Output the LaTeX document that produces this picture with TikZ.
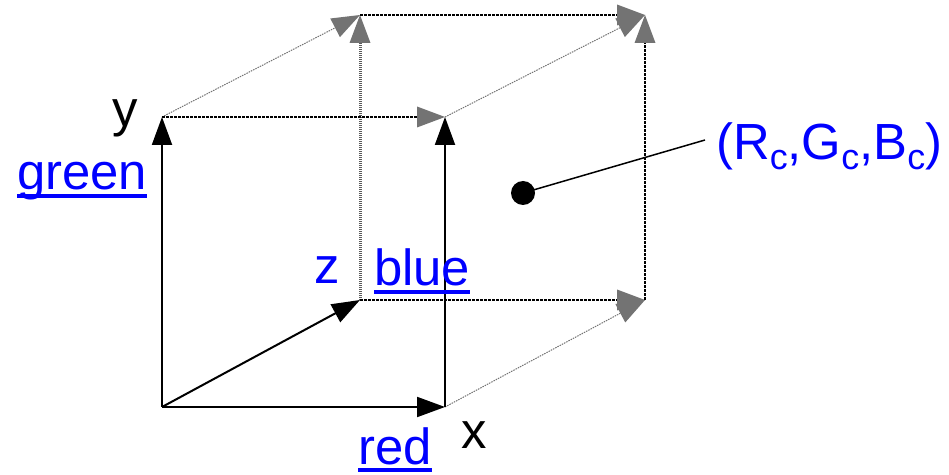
\documentclass[tikz,border=0pt]{standalone}
\usepackage{fontspec}
\setmainfont{Liberation Sans}
\usetikzlibrary{arrows.meta}
\definecolor{lblblue}{RGB}{0,0,255}
\definecolor{tipgray}{RGB}{115,115,115}
\newcommand\ulbl[1]{\setbox0\hbox{#1}\rlap{\rule[-8bp]{\wd0}{4bp}}\box0}
\newcommand\sbc{\raisebox{-10bp}{\fontsize{36}{40}\selectfont c}}
\begin{document}
\begin{tikzpicture}[x=1bp,y=-1bp,
  lbl/.style={inner sep=0pt,anchor=base west,font=\fontsize{51}{60}\selectfont},
  axis/.style={line width=2bp,-{Triangle[length=28bp,width=20bp]}},
  graytip/.style={-{Triangle[length=28bp,width=21bp,line width=0pt,color=tipgray]}},
  hidden/.style={graytip,line width=2bp,dash pattern=on 2.5bp off 1.5bp},
  hidgray/.style={graytip,line width=3bp,draw=black!65,dash pattern=on 1bp off 1bp},
  diag/.style={graytip,line width=1bp,draw=black!55,dash pattern=on 1.5bp off 1bp}]
\useasboundingbox (0,0) rectangle (949,475);
% corners
\coordinate (O) at (162,407);
\coordinate (X) at (445,407);
\coordinate (Y) at (162,117);
\coordinate (XY) at (445,117);
\coordinate (Z) at (360,300);
\coordinate (XZ) at (645,300);
\coordinate (YZ) at (360,15);
\coordinate (XYZ) at (645,15);
% hidden edges
\draw[diag] (Y) -- (YZ);
\draw[diag] (XY) -- (XYZ);
\draw[diag] (X) -- (XZ);
\draw[hidgray] (Z) -- (YZ);
\draw[hidden] (Y) -- (XY);
\draw[hidden] (YZ) -- (XYZ);
\draw[hidden] (Z) -- (XZ);
\draw[hidden] (XZ) -- (XYZ);
% solid axes
\draw[axis] (O) -- (X);
\draw[axis] (O) -- (Y);
\draw[axis] (O) -- (Z);
\draw[axis] (X) -- (XY);
% point
\node[circle,fill=black,inner sep=0pt,minimum size=24bp] (pt) at (523,193) {};
\coordinate (lead) at (705,140);
\draw[line width=1.5bp] (pt.center) -- (lead);
% labels
\node[lbl] (ly) at (112,127) {y};
\node[lbl,text=lblblue] (lgreen) at (17,190) {\ulbl{green}};
\node[lbl,text=lblblue] (lz) at (314,284) {z};
\node[lbl,text=lblblue] (lblue) at (374,286) {\ulbl{blue}};
\node[lbl] (lx) at (461,448) {x};
\node[lbl,text=lblblue] (lred) at (358,464) {\ulbl{red}};
\node[lbl,text=lblblue] (lrgb) at (716,160) {(R\sbc,G\sbc,B\sbc)};
\end{tikzpicture}
\end{document}
